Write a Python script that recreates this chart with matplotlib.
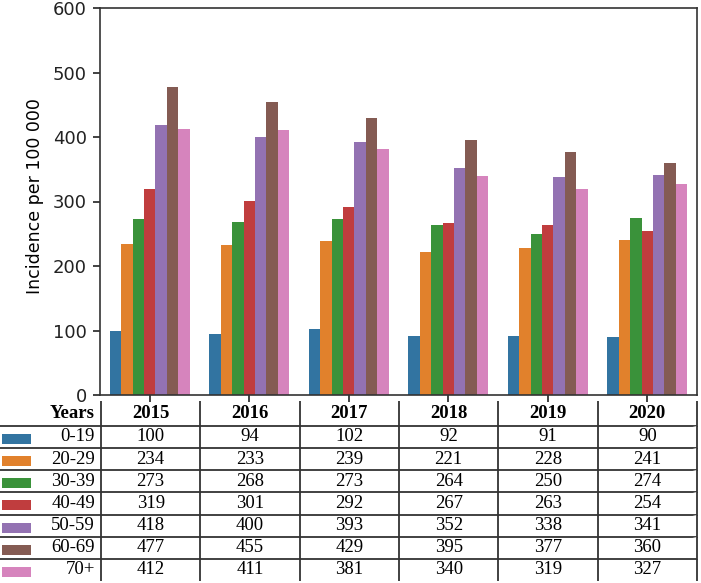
import matplotlib
matplotlib.use("Agg")
import matplotlib.pyplot as plt
from matplotlib.patches import Rectangle
import numpy as np

years = ["2015", "2016", "2017", "2018", "2019", "2020"]
age_groups = ["0-19", "20-29", "30-39", "40-49", "50-59", "60-69", "70+"]
inc_0_19 = [100, 94, 102, 92, 91, 90]
inc_20_29 = [234, 233, 239, 221, 228, 241]
inc_30_39 = [273, 268, 273, 264, 250, 274]
inc_40_49 = [319, 301, 292, 267, 263, 254]
inc_50_59 = [418, 400, 393, 352, 338, 341]
inc_60_69 = [477, 455, 429, 395, 377, 360]
inc_70p = [412, 411, 381, 340, 319, 327]
series = [inc_0_19, inc_20_29, inc_30_39, inc_40_49, inc_50_59, inc_60_69, inc_70p]
colors = ['#3274a1', '#e1812c', '#3a923a', '#c03d3e', '#9372b2', '#845b53', '#d684bd']

W, H = 701, 583
fig = plt.figure(figsize=(W / 100, H / 100), dpi=100)
ax_l, ax_r, ax_t, ax_b = 100, 697, 8, 395
ax = fig.add_axes([ax_l / W, 1 - ax_b / H, (ax_r - ax_l) / W, (ax_b - ax_t) / H])

x = np.arange(len(years))
n = len(series)
bw = 0.8 / n
for j, (vals, c) in enumerate(zip(series, colors)):
    ax.bar(x + (j - (n - 1) / 2) * bw, vals, width=bw, color=c, linewidth=0)

ax.set_xlim(-0.5, len(years) - 0.5)
ax.set_ylim(0, 600)
ax.set_yticks(range(0, 601, 100))
ax.set_xticks(x)
ax.set_xticklabels([])
ax.tick_params(axis='y', labelsize=13, length=5, width=1.2, pad=4.5, colors='#222')
ax.tick_params(axis='x', length=5, width=1.2, colors='#222')
ax.set_ylabel("Incidence per 100 000", fontsize=12.5)
ax.yaxis.set_label_coords(-0.0946, 0.513)
for s in ax.spines.values():
    s.set_color('#333')
    s.set_linewidth(1.2)

# table layout (pixels)
tab_l, tab_r = 0, 697
tab_t = 401
head_h = 24.7
row_h = 22.2
tab_b = tab_t + head_h + row_h * len(age_groups)
axw = ax_r - ax_l
axh = ax_b - ax_t
bbox = [(tab_l - ax_l) / axw, (ax_b - tab_b) / axh,
        (tab_r - tab_l) / axw, (tab_b - tab_t) / axh]

cell_text = [[age] + [str(series[i][k]) for k in range(len(years))]
             for i, age in enumerate(age_groups)]
col_labels = ["Years"] + years
tbl = ax.table(cellText=cell_text, colLabels=col_labels, bbox=bbox, cellLoc='center')
tbl.auto_set_font_size(False)
first_w = 101
other_w = (tab_r - tab_l - first_w) / len(years)
nrows = len(age_groups) + 1
for (r, c), cell in tbl.get_celld().items():
    cell.set_width(first_w if c == 0 else other_w)
    cell.set_height(head_h if r == 0 else row_h)
    cell.set_edgecolor('#333')
    cell.set_linewidth(1.3)
    t = cell.get_text()
    t.set_fontfamily('Liberation Serif')
    t.set_fontsize(13.5)
    if r == 0:
        t.set_fontweight('bold')
    if c == 0:
        cell._loc = 'right'
        cell.PAD = 0.06
        t.set_horizontalalignment('right')
    edges = ''
    if r < nrows - 1:
        edges += 'B'
    if c > 0:
        edges += 'L'
    if c == len(years):
        edges += 'R'
    cell.visible_edges = edges

# colour keys
for i, c in enumerate(colors):
    yc = tab_t + head_h + row_h * (i + 0.5) + 2
    fig.add_artist(Rectangle((2 / W, 1 - (yc + 5) / H), 29 / W, 10 / H,
                             transform=fig.transFigure, color=c, linewidth=0))

fig.savefig("out.png", dpi=100)
